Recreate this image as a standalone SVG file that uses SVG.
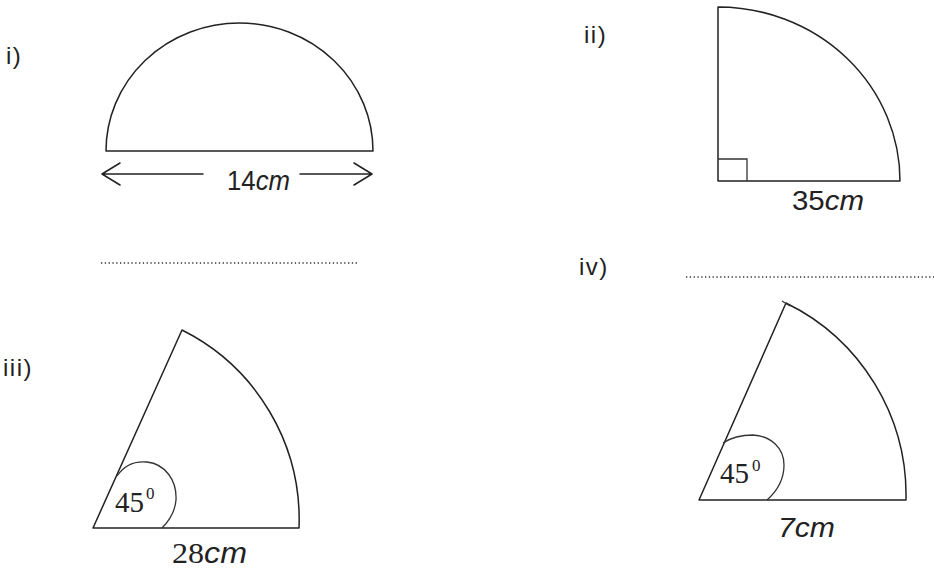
<svg xmlns="http://www.w3.org/2000/svg" width="934" height="569" viewBox="0 0 934 569">
<style>
.ln{fill:none;stroke:#222;stroke-width:1.5;stroke-linejoin:round;stroke-linecap:round}
.thin{fill:none;stroke:#333;stroke-width:1.3}
.lab{font-family:"Liberation Sans",Arial,sans-serif;font-size:24px;fill:#222;letter-spacing:1.5px}
.sans{font-family:"Liberation Sans",Arial,sans-serif;font-size:28px;fill:#222}
.ser{font-family:"Liberation Serif","Times New Roman",serif;font-size:29px;fill:#222}
.sup{font-family:"Liberation Serif","Times New Roman",serif;font-size:17px;fill:#222}
.it{font-style:italic}
.dot{fill:none;stroke:#333;stroke-width:1.6;stroke-dasharray:1.3 2.5}
</style>
<rect width="934" height="569" fill="#fff"/>

<g id="fig-i">
<text class="lab" x="6" y="64">i)</text>
<path class="ln" d="M106,151 A133.5,128 0 0 1 373,151 Z"/>
<text class="sans" x="227" y="190" font-size="27" textLength="63" lengthAdjust="spacingAndGlyphs">14<tspan class="it">cm</tspan></text>
<line class="dot" x1="101" y1="263" x2="358" y2="263"/>
</g>

<g id="fig-ii">
<text class="lab" x="584" y="43">ii)</text>
<path class="ln" d="M718,7 A182,174 0 0 1 900,181 L718,181 Z"/>
<path class="thin" d="M718,159 H747 V181"/>
<text class="sans" x="792" y="210" textLength="72" lengthAdjust="spacingAndGlyphs">35<tspan class="it">cm</tspan></text>
</g>

<g id="fig-iii">
<text class="lab" x="3" y="376">iii)</text>
<path class="ln" d="M182,330 A212,212 0 0 1 299,528 L93,528 L182,330"/>
<path class="thin" d="M117,476 C125,464 137,461 147,462 C165,464 177,480 176,500 C175,512 168,522 162,528"/>
<text class="ser" x="115" y="512">45</text>
<text class="sup" x="146" y="499">0</text>
<text class="ser" x="172" y="563" font-size="27" textLength="75" lengthAdjust="spacingAndGlyphs">28<tspan class="it" font-family="Liberation Sans, Arial, sans-serif" font-size="29">cm</tspan></text>
</g>

<g id="fig-iv">
<text class="lab" x="579" y="275">iv)</text>
<line class="dot" x1="686" y1="277" x2="934" y2="277"/>
<path class="ln" d="M786,303 A214,214 0 0 1 906,500 L699,500 L786,303"/>
<path class="thin" d="M782,301 L790,306"/>
<path class="thin" d="M723,443 C732,437 742,435 753,435 C771,436 784,448 784,465 C784,480 776,492 767,500"/>
<text class="ser" x="720" y="483">45</text>
<text class="sup" x="752" y="471">0</text>
<text class="sans it" x="778" y="537" textLength="57" lengthAdjust="spacingAndGlyphs">7cm</text>
</g>

<g id="connectors">
<path class="ln" d="M102,174 H203 M120,163 L102,174 L120,185"/>
<path class="ln" d="M300,174 H372 M354,163 L372,174 L354,185"/>
</g>
</svg>
